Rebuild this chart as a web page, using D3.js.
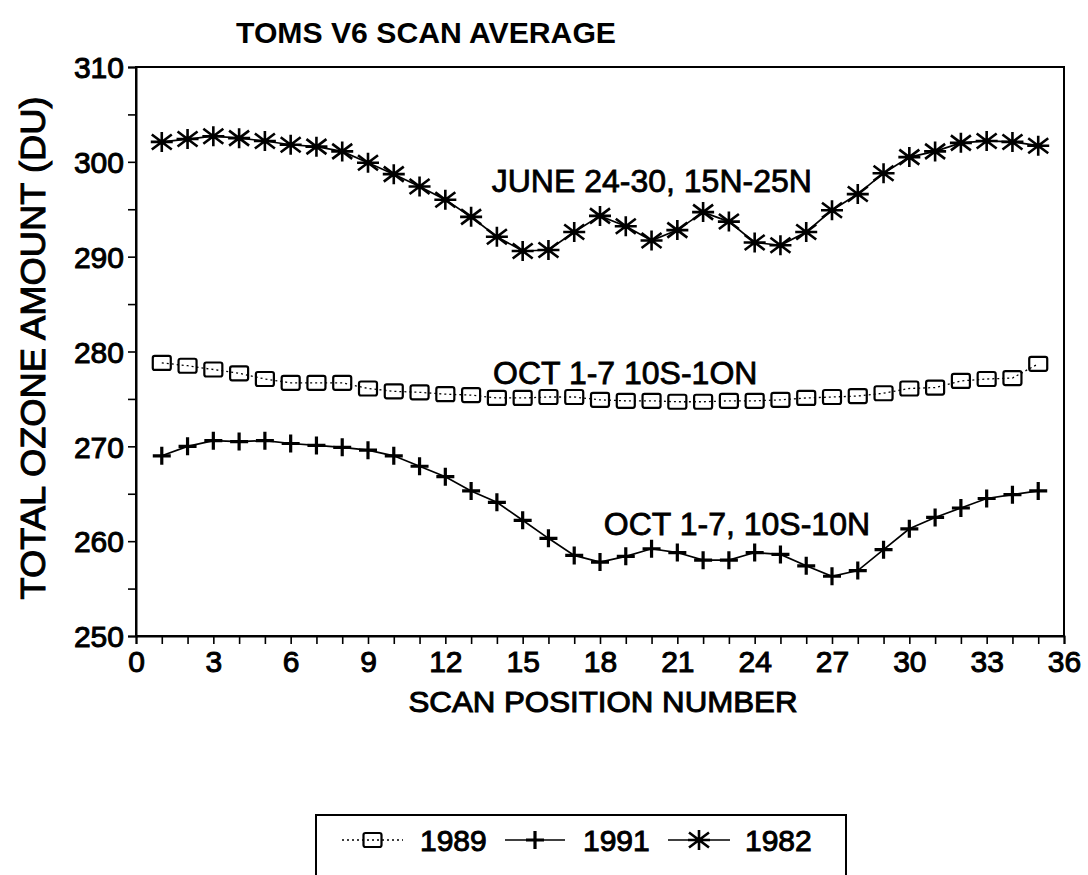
<!DOCTYPE html>
<html><head><meta charset="utf-8">
<script src="https://cdn.jsdelivr.net/npm/d3@7"></script>
<style>
html,body{margin:0;padding:0;background:#fff;}
svg{display:block;}
text{font-family:"Liberation Sans",Arial,Helvetica,sans-serif;fill:#000;}
</style></head>
<body>
<svg id="chart" width="1088" height="875"></svg>
<script>
// ---- data ----
const positions = [1,2,3,4,5,6,7,8,9,10,11,12,13,14,15,16,17,18,19,20,21,22,23,24,25,26,27,28,29,30,31,32,33,34,35];
const y1982 = [302.1,302.4,302.7,302.5,302.2,301.8,301.6,301.1,299.9,298.7,297.4,296.0,294.2,292.1,290.6,290.7,292.6,294.3,293.2,291.7,292.8,294.7,293.7,291.5,291.2,292.6,294.9,296.6,298.8,300.5,301.1,302.0,302.2,302.1,301.7];
const y1989 = [278.8,278.5,278.1,277.7,277.1,276.7,276.7,276.7,276.1,275.8,275.7,275.5,275.4,275.1,275.1,275.2,275.2,274.9,274.8,274.8,274.7,274.7,274.8,274.8,274.9,275.1,275.2,275.3,275.6,276.1,276.2,276.9,277.1,277.2,278.7];
const y1991 = [269.0,270.0,270.6,270.5,270.6,270.3,270.1,269.9,269.6,269.0,267.9,266.8,265.3,264.1,262.2,260.3,258.5,257.8,258.4,259.2,258.8,258.0,258.0,258.8,258.6,257.4,256.3,256.9,259.1,261.3,262.5,263.5,264.5,264.9,265.3];
const xTickLabels = [0,3,6,9,12,15,18,21,24,27,30,33,36];
const yTickLabels = [250,260,270,280,290,300,310];
const seriesNames = ["1989","1991","1982"];
const annotations = [
  {text:"JUNE 24-30, 15N-25N", x:13.8, y:296.8},
  {text:"OCT 1-7 10S-1ON", x:13.85, y:276.6},
  {text:"OCT 1-7, 10S-10N", x:18.15, y:260.6}
];
const titleText = "TOMS V6 SCAN AVERAGE";
const xTitle = "SCAN POSITION NUMBER";
const yTitle = "TOTAL OZONE AMOUNT (DU)";

// ---- layout ----
const L=136, R=1064, T=67, B=636;
const x = d3.scaleLinear().domain([0,36]).range([L,R]);
const y = d3.scaleLinear().domain([250,310]).range([B,T]);
const svg = d3.select("#chart");
const FONT = 30;
const SW = 1.0;

// frame
svg.append("rect").attr("x",L).attr("y",T).attr("width",R-L).attr("height",B-T)
  .attr("fill","none").attr("stroke","#000").attr("stroke-width",2);

// axes
const xAxis = d3.axisBottom(x).tickValues(d3.range(0,37,1)).tickSize(8).tickFormat("");
const gx = svg.append("g").attr("transform",`translate(0,${B})`).call(xAxis);
gx.select(".domain").attr("stroke-width",2);
gx.selectAll(".tick line").attr("stroke-width",1.6);
const gxl = svg.append("g").attr("transform",`translate(0,${B})`)
  .call(d3.axisBottom(x).tickValues(xTickLabels).tickSize(0).tickPadding(36).tickFormat(d=>d));
gxl.select(".domain").remove();
gxl.selectAll("text").attr("font-size",FONT).attr("dy",0).attr("font-family",null)
  .attr("stroke","#000").attr("stroke-width",SW);

const yAxis = d3.axisLeft(y).tickValues(d3.range(250,311,5)).tickSize(8)
  .tickFormat(d=> yTickLabels.includes(d)? d : "").tickPadding(4);
const gy = svg.append("g").attr("transform",`translate(${L},0)`).call(yAxis);
gy.select(".domain").attr("stroke-width",2);
gy.selectAll(".tick line").attr("stroke-width",1.6);
gy.selectAll("text").attr("font-size",FONT).attr("font-family",null).attr("dy","0.36em")
  .attr("stroke","#000").attr("stroke-width",SW);

// titles
svg.append("text").attr("x",236).attr("y",43).attr("font-size",30).attr("font-weight","bold")
  .attr("textLength",380).attr("lengthAdjust","spacingAndGlyphs").text(titleText);
svg.append("text").attr("x",603).attr("y",712).attr("text-anchor","middle")
  .attr("font-size",FONT).attr("stroke","#000").attr("stroke-width",SW)
  .attr("textLength",389).attr("lengthAdjust","spacingAndGlyphs").text(xTitle);
svg.append("text").attr("transform","translate(45,348) rotate(-90)").attr("text-anchor","middle")
  .attr("font-size",35).attr("stroke","#000").attr("stroke-width",SW)
  .attr("textLength",503).attr("lengthAdjust","spacingAndGlyphs").text(yTitle);

// annotations
annotations.forEach(a=>{
  svg.append("text").attr("x",x(a.x)).attr("y",y(a.y)).attr("font-size",32)
    .attr("stroke","#000").attr("stroke-width",0.8).text(a.text);
});

// lines
const line = vals => d3.line().x((d,i)=>x(positions[i])).y(d=>y(d))(vals);
svg.append("path").attr("d",line(y1989)).attr("fill","none").attr("stroke","#000")
  .attr("stroke-width",1.3).attr("stroke-dasharray","2,3");
svg.append("path").attr("d",line(y1991)).attr("fill","none").attr("stroke","#000").attr("stroke-width",1.7);
svg.append("path").attr("d",line(y1982)).attr("fill","none").attr("stroke","#000").attr("stroke-width",1.7);

// markers
function squareMark(g,cx,cy){
  g.append("rect").attr("x",cx-9).attr("y",cy-7).attr("width",18).attr("height",14)
   .attr("rx",2).attr("fill","none").attr("stroke","#000").attr("stroke-width",2.2);
}
function plusMark(g,cx,cy){
  g.append("path").attr("d",`M${cx-9},${cy}H${cx+9}M${cx},${cy-9}V${cy+9}`)
   .attr("stroke","#000").attr("stroke-width",3.2).attr("fill","none");
}
function starMark(g,cx,cy){
  const dx=10, dy=7.5, v=10;
  g.append("path").attr("d",`M${cx-11},${cy}H${cx+11}M${cx},${cy-v}V${cy+v}M${cx-dx},${cy-dy}L${cx+dx},${cy+dy}M${cx-dx},${cy+dy}L${cx+dx},${cy-dy}`)
   .attr("stroke","#000").attr("stroke-width",2.6).attr("fill","none");
}
const gm = svg.append("g");
positions.forEach((p,i)=>{
  squareMark(gm,x(p),y(y1989[i]));
  plusMark(gm,x(p),y(y1991[i]));
  starMark(gm,x(p),y(y1982[i]));
});

// legend
const lg = svg.append("g");
lg.append("rect").attr("x",316).attr("y",815).attr("width",530).attr("height",80)
  .attr("fill","none").attr("stroke","#000").attr("stroke-width",2);
const ly = 840;
const items = [
  {name:seriesNames[0], x0:342, x1:403, mark:squareMark, dash:"2,3", tx:420},
  {name:seriesNames[1], x0:505, x1:565, mark:plusMark, dash:null, tx:583},
  {name:seriesNames[2], x0:668, x1:730, mark:starMark, dash:null, tx:745}
];
items.forEach(it=>{
  const l = lg.append("line").attr("x1",it.x0).attr("x2",it.x1).attr("y1",ly).attr("y2",ly)
    .attr("stroke","#000").attr("stroke-width",1.5);
  if(it.dash) l.attr("stroke-dasharray",it.dash);
  it.mark(lg,(it.x0+it.x1)/2,ly);
  lg.append("text").attr("x",it.tx).attr("y",ly+11).attr("font-size",30)
    .attr("stroke","#000").attr("stroke-width",SW).text(it.name);
});
</script>
</body></html>
